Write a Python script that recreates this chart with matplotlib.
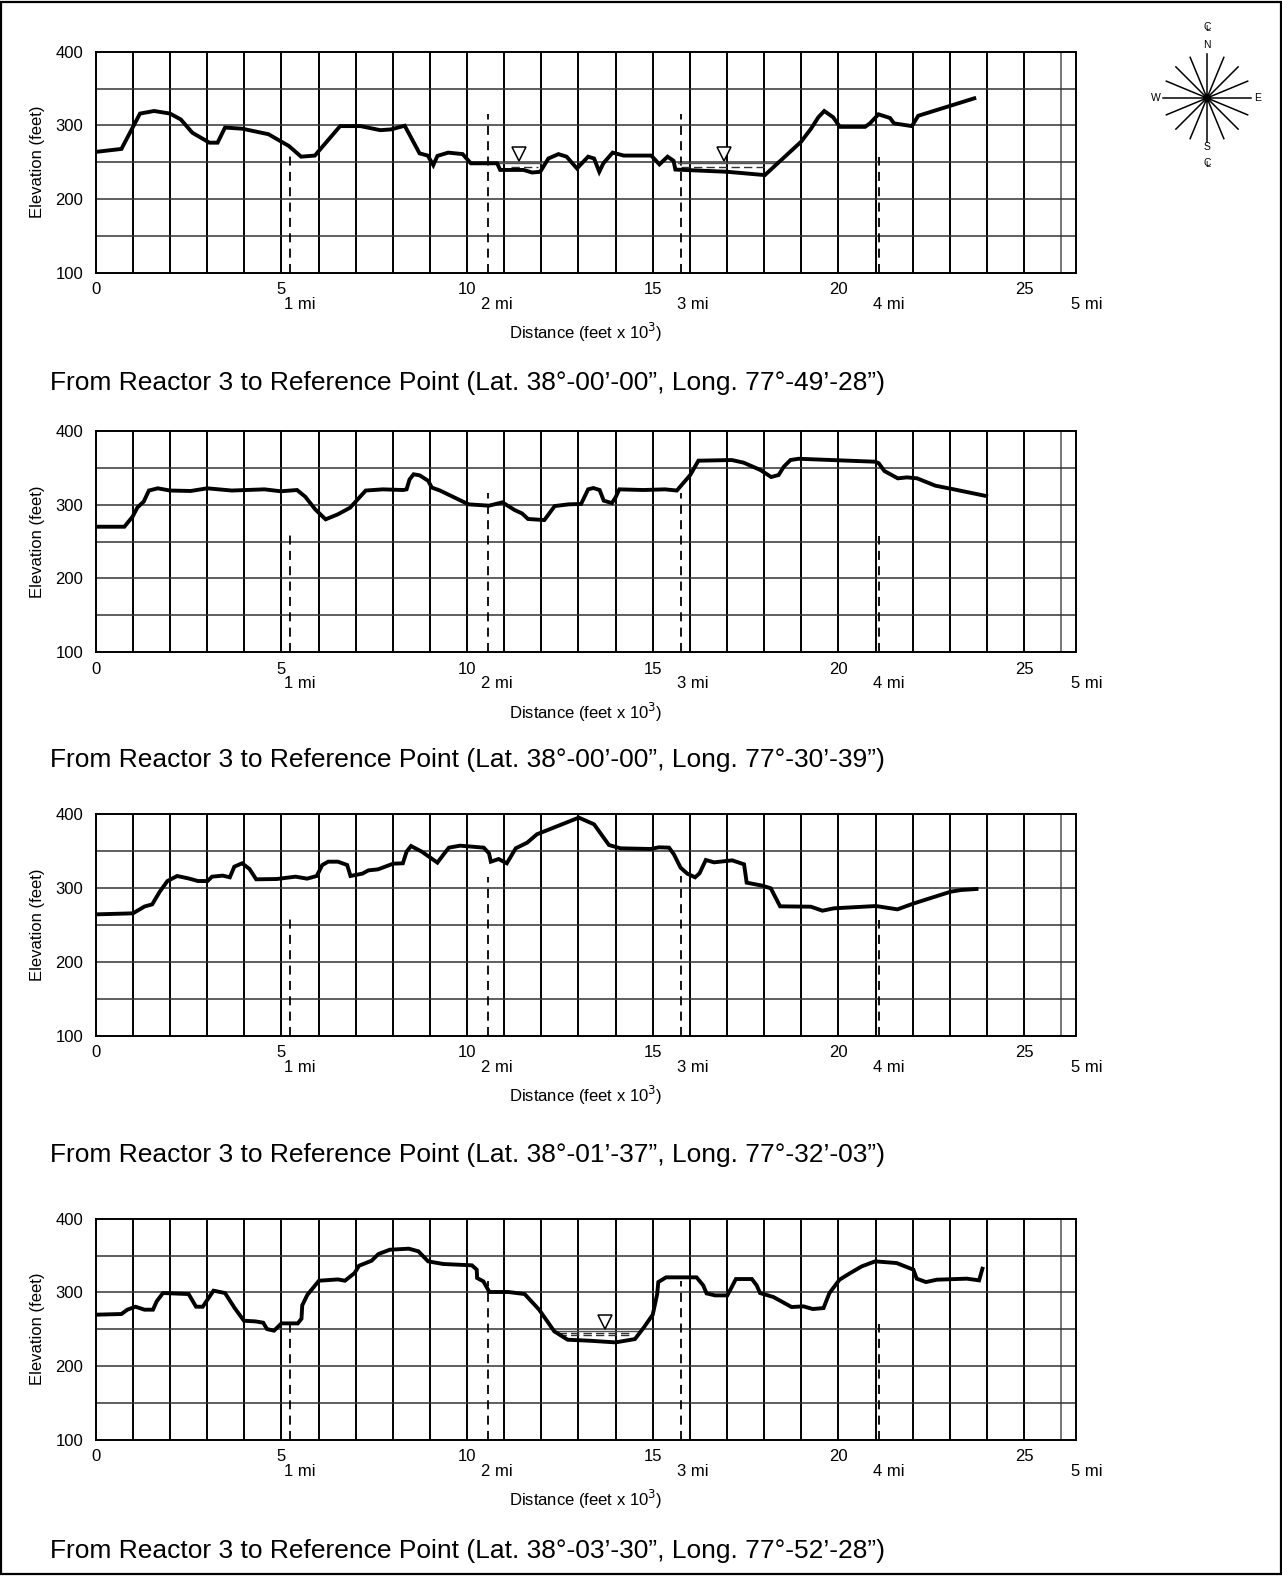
import numpy as np
import matplotlib
matplotlib.use("Agg")
import matplotlib.pyplot as plt
import matplotlib.transforms as mtransforms
from matplotlib.patches import Rectangle, Circle

plt.rcParams['font.family'] = ['Liberation Sans', 'DejaVu Sans']

# ---- data (distance in 1000 ft, elevation in ft) ----
p1_x = [0, 0.69, 1.19, 1.57, 2.0, 2.29, 2.6, 3.06, 3.28, 3.48, 3.94, 4.65, 5.2, 5.53, 5.9, 6.58,
        7.13, 7.66, 7.95, 8.32, 8.72, 8.94, 9.09, 9.2, 9.49, 9.88, 10.1, 10.81, 10.89, 11.52, 11.75,
        11.97, 12.19, 12.46, 12.68, 12.96, 13.26, 13.42, 13.56, 13.67, 13.92, 14.22, 14.96, 15.18,
        15.4, 15.56, 15.61, 17.0, 18.02, 19.0, 19.27, 19.46, 19.62, 19.86, 20.04, 20.72, 20.85,
        21.08, 21.39, 21.5, 21.98, 22.15, 23.66]
p1_y = [264, 268, 316, 319.5, 316, 308, 290, 276.5, 276.5, 297, 295.5, 288, 272, 257.5, 259, 299,
        299, 293.5, 294.5, 299.5, 262, 259, 246, 258.5, 263, 261, 248.5, 248.5, 239.5, 239.5, 236,
        237, 255, 261, 257.5, 241.5, 257.5, 255, 237, 248.5, 263, 259, 259, 247,
        257.5, 252, 240, 237, 232.5, 278, 296, 311, 319.5, 311, 298, 298, 302.7,
        315, 310, 302.7, 299, 313, 336.7]

p2_x = [0, 0.77, 0.99, 1.12, 1.29, 1.43, 1.67, 2.0, 2.56, 3.0, 3.66, 4.54, 4.98, 5.42, 5.64, 5.91,
        6.19, 6.52, 6.85, 7.27, 7.73, 8.28, 8.37, 8.45, 8.56, 8.72, 8.95, 9.05, 9.27, 10.04, 10.59,
        10.95, 11.28, 11.48, 11.64, 12.08, 12.36, 12.74, 13.07, 13.26, 13.4, 13.57, 13.68, 13.9,
        14.0, 14.1, 14.75, 15.33, 15.65, 16.01, 16.23, 17.13, 17.45, 17.9, 18.19, 18.39, 18.53,
        18.71, 18.93, 21.0, 21.09, 21.24, 21.6, 21.85, 22.12, 22.61, 23.11, 23.98]
p2_y = [270, 270, 283.6, 296, 304, 319, 322, 319, 318.4, 322, 319, 320.6, 318, 319.7, 310.7, 293.5,
        280, 286.8, 295.8, 319, 320.6, 319.7, 320.6, 334, 341, 339.6, 332.3, 323, 319, 300.3, 298.5,
        303, 292.6, 288, 280.5, 279, 298, 300.3, 300.8, 320.6, 322.4, 319.7, 305.3, 302,
        309.8, 320.6, 319.7, 320.6, 319, 340, 359.4, 360.3, 356.7, 346.8, 337.3, 340, 351.3,
        360.3, 362, 358, 355.8, 345.4, 335.5, 336.8, 335.5, 325.6, 320.6, 311.6]

p3_x = [0, 1.0, 1.31, 1.52, 1.72, 1.93, 2.19, 2.49, 2.75, 3.01, 3.13, 3.42, 3.61, 3.73, 3.94, 4.14,
        4.32, 4.87, 5.38, 5.69, 5.95, 6.1, 6.26, 6.52, 6.77, 6.86, 7.18, 7.34, 7.6, 8.01, 8.27,
        8.37, 8.49, 8.78, 9.2, 9.37, 9.51, 9.81, 10.12, 10.45, 10.59, 10.64, 10.85, 11.07, 11.31,
        11.62, 11.88, 13.01, 13.42, 13.82, 14.13, 14.94, 15.17, 15.44, 15.57, 15.75, 15.93, 16.14,
        16.26, 16.43, 16.65, 17.14, 17.46, 17.53, 17.95, 18.18, 18.43, 19.26, 19.57, 19.88, 21.01,
        21.59, 22.04, 23.03, 23.3, 23.72]
p3_y = [264.4, 265.8, 275, 278, 295, 309.6, 316.4, 313.2, 309.6, 309.6, 315.5, 316.9, 314.6, 329,
        333.6, 325.9, 311.9, 312.3, 315.5, 312.8, 316.4, 331.3, 335.8, 335.8, 331.3, 316.4, 319.6,
        324, 325.4, 333.1, 333.6, 349.4, 357, 349.4, 334.5, 345.8, 354.8, 357.5, 356.2, 354.8,
        347.1, 335.8, 339.4, 333.6, 353.9, 361.6, 372.9, 395.5, 386.4, 358.4, 353.9, 353, 355.3,
        354.8, 345.8, 327.7, 319.6, 314.6, 320, 338.1, 334.9, 337.6, 332.2, 307.4, 303.3, 299.7,
        275.3, 274.8, 269.4, 272.6, 275.7, 271.2, 279.4, 295.2, 297.4, 298.8]

p4_x = [0, 0.69, 0.85, 1.07, 1.31, 1.54, 1.64, 1.81, 2.5, 2.7, 2.88, 3.17, 3.48, 3.74, 3.99, 4.3,
        4.51, 4.61, 4.8, 5.0, 5.44, 5.54, 5.56, 5.7, 6.01, 6.52, 6.71, 6.97, 7.09, 7.43, 7.61, 7.92,
        8.43, 8.69, 8.95, 9.36, 10.13, 10.26, 10.27, 10.44, 10.6, 11.11, 11.55, 11.94, 12.35,
        12.71, 13.28, 14.0, 14.52, 14.75, 15.0, 15.12, 15.15, 15.36, 16.18, 16.36, 16.45, 16.68,
        17.01, 17.24, 17.67, 17.8, 17.89, 18.25, 18.74, 19.06, 19.31, 19.6, 19.76, 20.03, 20.32,
        20.63, 20.99, 21.57, 22.02, 22.11, 22.36, 22.65, 23.46, 23.79, 23.88]
p4_y = [269.7, 270.6, 276.5, 280.5, 276.5, 276.5, 287.8, 299.1, 297.7, 280.5, 280.5, 302.3, 299.1,
        278.7, 261.5, 260.6, 258.8, 250.2, 248, 257.9, 257.9, 264.3, 282.4, 296.8, 315.8, 317.6,
        315.8, 326.2, 336.2, 343, 352, 357.9, 359.3, 355.7, 342.1, 338.5, 336.7, 330.8, 319.5,
        314.9, 300.5, 300.5, 297.7, 276.5, 247, 235.7, 234.4, 232.1, 236.6, 251.6, 269.7, 297.7,
        314, 320.4, 320.4, 309.5, 298.6, 295.9, 295.9, 318.1, 318.1, 309.5, 299.1, 293.7, 280.1,
        281, 277.4, 278.7, 299.1, 317.2, 326.2, 335.3, 342.1, 339.8, 330.8, 318.6, 314, 317.2,
        318.6, 316.3, 332.1]

profiles_x = [p1_x, p2_x, p3_x, p4_x]
profiles_y = [p1_y, p2_y, p3_y, p4_y]

titles = [
    "From Reactor 3 to Reference Point (Lat. 38\u00b0-00\u2019-00\u201d, Long. 77\u00b0-49\u2019-28\u201d)",
    "From Reactor 3 to Reference Point (Lat. 38\u00b0-00\u2019-00\u201d, Long. 77\u00b0-30\u2019-39\u201d)",
    "From Reactor 3 to Reference Point (Lat. 38\u00b0-01\u2019-37\u201d, Long. 77\u00b0-32\u2019-03\u201d)",
    "From Reactor 3 to Reference Point (Lat. 38\u00b0-03\u2019-30\u201d, Long. 77\u00b0-52\u2019-28\u201d)",
]

# mile markers (dashed lines) and their labels
mile_x = [5.22, 10.56, 15.77, 21.09]
mile_top = [265, 315, 316, 257]
mile_label_x = [5.5, 10.8, 16.08, 21.37, 26.7]
mile_labels = ["1 mi", "2 mi", "3 mi", "4 mi", "5 mi"]

x_ticks = [0, 5, 10, 15, 20, 25]
y_ticks = [100, 200, 300, 400]

# water bodies: panel index, surface start/end, level, dash lines, triangle x
water_panel = [0, 0, 3]
water_x0 = [10.82, 15.67, 12.35]
water_x1 = [11.99, 18.37, 14.61]
water_level = [249, 249, 248]
water_dash_x0 = [11.18, 15.76, 12.46]
water_dash_x1 = [11.9, 18.1, 14.48]
water_dash_levels = [[244], [243], [245, 241.5]]
water_tri_x = [11.4, 16.92, 13.71]

# ---- layout (pixel positions of each panel) ----
W, H = 1282, 1576
ax_left, ax_right = 95.8, 1076.0
ax_tops = [51.7, 430.7, 814.3, 1218.7]
ax_bottoms = [272.7, 652.3, 1035.7, 1439.7]
title_y = [383, 760, 1155, 1551]

fig = plt.figure(figsize=(W / 100, H / 100), dpi=100)

for i in range(4):
    ax = fig.add_axes([ax_left / W, 1 - ax_bottoms[i] / H,
                       (ax_right - ax_left) / W, (ax_bottoms[i] - ax_tops[i]) / H])
    ax.set_xlim(0, 26.4)
    ax.set_ylim(100, 400)

    # grid
    for gx in range(1, 27):
        ax.axvline(gx, color='black' if gx < 26 else '#777777', lw=1.4, zorder=1)
    for gy in range(150, 400, 50):
        ax.axhline(gy, color='#333333', lw=1.1, zorder=1)

    # mile markers
    for m, top in zip(mile_x, mile_top):
        ax.plot([m, m], [100, top], color='black', lw=1.3, ls=(0, (5, 3.5)), zorder=2)

    # water
    for k in range(len(water_panel)):
        if water_panel[k] != i:
            continue
        ax.plot([water_x0[k], water_x1[k]], [water_level[k]] * 2, color='#555555', lw=1.0, zorder=2)
        for lv in water_dash_levels[k]:
            ax.plot([water_dash_x0[k], water_dash_x1[k]], [lv, lv], color='#333333',
                    lw=1.0, ls=(0, (6, 3)), zorder=2)
        ax.plot(water_tri_x[k], water_level[k] + 11.5, marker='v', ms=10, mfc='white',
                mec='black', mew=1.1, zorder=4)

    # profile
    ax.plot(profiles_x[i], profiles_y[i], color='black', lw=2.8, solid_joinstyle='miter', zorder=3)

    for s in ax.spines.values():
        s.set_linewidth(1.4)
    ax.set_xticks(x_ticks)
    ax.set_yticks(y_ticks)
    ax.tick_params(length=0, labelsize=12)
    ax.tick_params(axis='x', pad=7)
    ax.tick_params(axis='y', pad=9)

    trans = mtransforms.blended_transform_factory(ax.transData, ax.transAxes)
    for mx, lab in zip(mile_label_x, mile_labels):
        ax.text(mx, -0.142, lab, transform=trans, ha='center', va='center', fontsize=12)

    ax.text(0.5, -0.27, "Distance (feet x 10$^3$)", transform=ax.transAxes,
            ha='center', va='center', fontsize=12)
    ax.text(-0.059, 0.5, "Elevation (feet)", transform=ax.transAxes, rotation=90,
            ha='center', va='center', fontsize=12)

    fig.text(50 / W, 1 - title_y[i] / H, titles[i], ha='left', va='center', fontsize=19)

# compass rose
cx, cy, half = 1207, 98, 90
cax = fig.add_axes([(cx - half) / W, 1 - (cy + half) / H, 2 * half / W, 2 * half / H])
cax.set_xlim(-half, half)
cax.set_ylim(-half, half)
cax.axis('off')
for a in np.arange(0, 360, 22.5):
    r = np.deg2rad(a)
    cax.plot([0, 44 * np.cos(r)], [0, 44 * np.sin(r)], color='black', lw=1.1)
cax.add_patch(Circle((0, 0), 3.5, color='black'))
cax.text(0, 53, "N", ha='center', va='center', fontsize=7.5)
cax.text(0, -49, "S", ha='center', va='center', fontsize=7.5)
cax.text(-51, 0, "W", ha='center', va='center', fontsize=7.5)
cax.text(51, 0, "E", ha='center', va='center', fontsize=7.5)
for yy in (71, -65):
    cax.text(0, yy, "C", ha='center', va='center', fontsize=7.5)
    cax.text(0.8, yy - 1.5, "L", ha='center', va='center', fontsize=6.5)

# outer frame
fig.add_artist(Rectangle((0.001, 0.001), 0.998, 0.998, transform=fig.transFigure,
                         fill=False, lw=1.6, color='black'))

fig.savefig("out.png", dpi=100)
